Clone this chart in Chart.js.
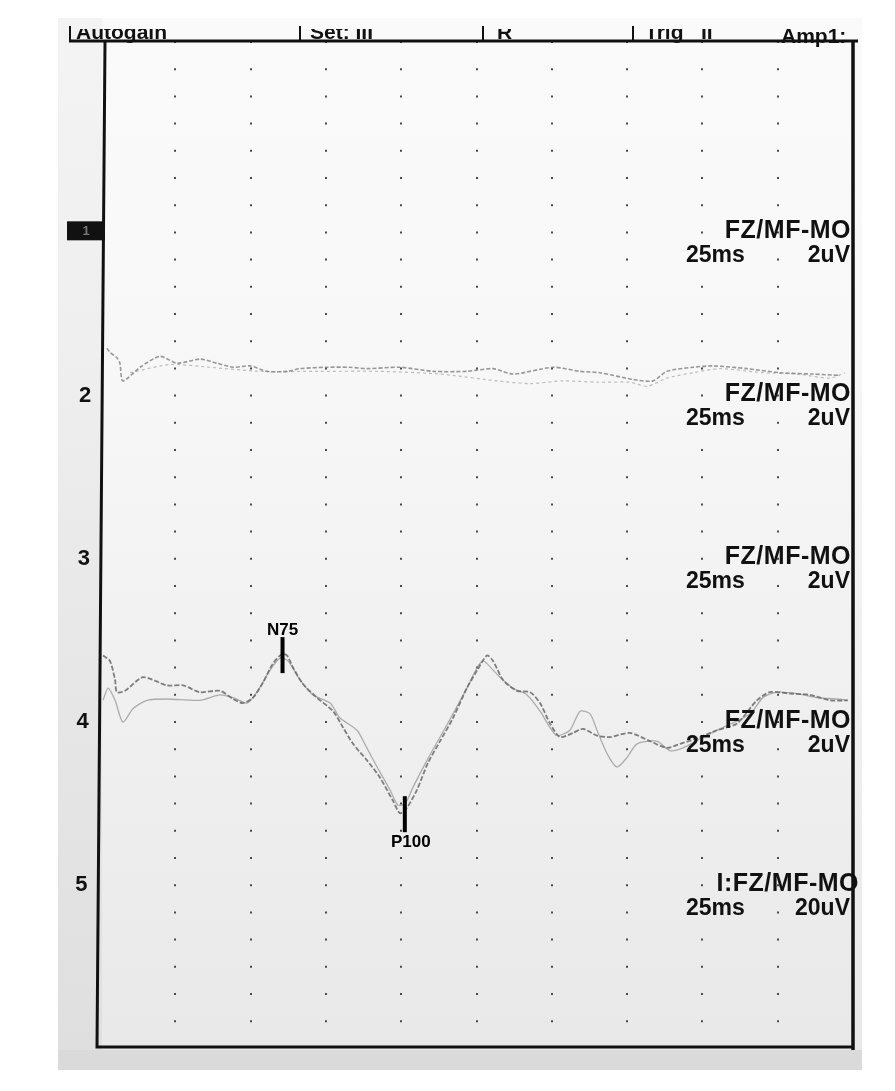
<!DOCTYPE html>
<html>
<head>
<meta charset="utf-8">
<script src="https://cdn.jsdelivr.net/npm/chart.js@4.4.1/dist/chart.umd.min.js"></script>
<style>
  html, body { margin: 0; padding: 0; background: #ffffff; }
  #wrap { position: absolute; left: 0; top: 0; width: 895px; height: 1091px; }
</style>
</head>
<body>
<div id="wrap"><canvas id="c" width="895" height="1091"></canvas></div>
<script>
// ---------------- DATA ----------------
// time axis: 10 divisions of 25 ms
const xTicksMs = [0, 25, 50, 75, 100, 125, 150, 175, 200, 225, 250];
const channelNumbers = ['1', '2', '3', '4', '5'];
const channelLeads = ['FZ/MF-MO', 'FZ/MF-MO', 'FZ/MF-MO', 'FZ/MF-MO', 'I:FZ/MF-MO'];
const channelTimebase = ['25ms', '25ms', '25ms', '25ms', '25ms'];
const channelSensitivity = ['2uV', '2uV', '2uV', '2uV', '20uV'];
const headerCells = ['Autogain', 'Set: III', 'R', 'Trig   II', 'Amp1:'];

// Channel 2 traces (uV, positive down), two superimposed runs
const ch2TimeA = [2.3, 3.3, 5.6, 6.6, 7.6, 13.3, 19.9, 25.6, 33.2, 38.8, 44.2, 49.8, 55.4, 62.1, 66.4, 75.4, 83.0, 88.6, 99.6, 110.6, 121.8, 130.5, 137.1, 150.4, 159.4, 166.0, 177.0, 183.6, 188.2, 196.9, 203.5, 214.8, 225.8, 236.7, 245.7];
const ch2UvA   = [-1.4, -1.1, -0.7, -0.3, 1.0, 0.0, -0.8, -0.3, -0.6, -0.3, 0.0, -0.1, 0.3, 0.3, 0.1, 0.0, 0.0, 0.1, 0.0, 0.3, 0.3, 0.1, 0.5, 0.0, 0.3, 0.4, 0.9, 1.0, 0.3, 0.0, -0.1, 0.1, 0.4, 0.5, 0.6];
const ch2TimeB = [10.0, 23.2, 36.5, 53.1, 73.0, 93.0, 112.9, 131.8, 142.8, 153.7, 165.0, 176.0, 181.6, 188.2, 196.9, 205.8, 220.1, 231.4, 242.4, 247.3];
const ch2UvB   = [0.4, -0.2, 0.0, 0.3, 0.3, 0.3, 0.5, 1.0, 1.2, 1.0, 1.1, 1.1, 1.4, 0.8, 0.4, 0.1, 0.4, 0.5, 0.8, 0.4];

// Channel 4 traces (uV, positive down), two superimposed runs
const ch4TimeA = [1.0, 3.3, 5.0, 5.6, 8.3, 14.3, 22.2, 27.6, 33.2, 39.8, 44.2, 47.5, 50.8, 54.1, 57.4, 60.4, 62.1, 64.1, 67.4, 72.0, 77.4, 80.7, 84.0, 88.6, 93.0, 97.3, 99.6, 101.9, 105.2, 108.9, 112.9, 117.2, 121.8, 125.2, 128.5, 130.5, 133.8, 138.4, 142.8, 146.1, 149.4, 152.7, 157.0, 160.4, 165.0, 169.3, 175.9, 182.6, 188.2, 192.6, 198.2, 204.8, 211.5, 218.1, 222.4, 229.1, 235.7, 242.4, 248.3];
const ch4UvA   = [-2.8, -2.4, -1.0, -0.1, -0.2, -1.2, -0.6, -0.6, -0.1, -0.2, 0.4, 0.7, 0.3, -0.8, -2.2, -2.9, -2.8, -1.9, -0.7, 0.3, 1.3, 2.5, 3.7, 4.9, 6.2, 7.9, 8.8, 8.4, 7.1, 5.1, 3.5, 1.8, -0.4, -1.7, -2.8, -2.4, -1.0, -0.2, -0.1, 0.7, 2.2, 3.2, 2.9, 2.6, 3.1, 3.2, 2.9, 3.5, 4.0, 3.7, 3.3, 2.7, 2.2, 0.5, -0.1, 0.0, 0.1, 0.5, 0.5];
const ch4TimeB = [1.0, 2.7, 5.0, 7.6, 11.0, 15.6, 22.2, 33.2, 39.8, 44.2, 48.8, 52.1, 56.4, 59.8, 62.4, 66.4, 70.7, 76.4, 79.7, 85.3, 88.6, 92.0, 96.3, 98.9, 101.3, 103.9, 108.6, 112.9, 117.2, 121.8, 125.2, 127.2, 128.5, 132.8, 137.1, 141.8, 146.1, 149.4, 151.7, 156.0, 159.4, 162.7, 165.0, 168.3, 171.6, 175.0, 178.3, 184.9, 189.2, 193.6, 200.2, 206.8, 215.8, 220.1, 224.8, 231.4, 238.0, 244.7, 248.0];
const ch4UvB   = [0.5, -0.4, 0.5, 2.1, 1.1, 0.5, 0.4, 0.5, 0.1, 0.3, 0.7, -0.1, -1.7, -2.6, -2.4, -1.0, 0.1, 0.7, 1.8, 2.7, 4.0, 5.4, 7.1, 8.2, 8.1, 6.9, 4.9, 3.2, 1.5, -0.4, -1.9, -2.4, -2.2, -1.2, -0.4, 0.1, 1.3, 2.5, 3.1, 2.7, 1.3, 1.5, 2.7, 4.4, 5.4, 4.7, 3.7, 3.5, 4.2, 4.0, 3.2, 2.5, 1.5, 0.3, -0.1, 0.0, 0.3, 0.4, 0.5];

// Marked peaks on channel 4
const peakNames = ['N75', 'P100'];
const peakMs = [60.6, 101.2];
const peakUv = [-2.9, 8.8];

// ---------------- LAYOUT CONSTANTS ----------------
const uvPerDiv = 2;          // 2 uV per vertical division
const totalDivs = 37;        // vertical divisions in the frame
const ch2BaseDiv = 12;
const ch4BaseDiv = 24;
const FONT = '"Liberation Sans", Arial, sans-serif';

function toPoints(times, uvs, base) {
  return times.map((t, i) => ({ x: t, y: base + uvs[i] / uvPerDiv }));
}

const decorations = {
  id: 'decorations',
  beforeDraw(chart) {
    const c = chart.ctx;
    c.save();
    // scanned paper area
    const g = c.createLinearGradient(0, 18, 0, 1070);
    g.addColorStop(0, '#fafafa');
    g.addColorStop(0.3, '#f8f8f8');
    g.addColorStop(0.6, '#f1f1f1');
    g.addColorStop(1, '#e8e8e8');
    c.fillStyle = g;
    c.fillRect(58, 18, 804, 1052);
    // left margin slightly greyer, fading in
    const g2 = c.createLinearGradient(0, 18, 0, 1070);
    g2.addColorStop(0, 'rgba(205,205,205,0.15)');
    g2.addColorStop(1, 'rgba(205,205,205,0.35)');
    c.fillStyle = g2;
    c.fillRect(58, 18, 44, 1052);
    // bottom striated band
    c.fillStyle = '#dadada';
    c.fillRect(58, 1050, 804, 20);
    c.restore();
  },
  afterDraw(chart) {
    const c = chart.ctx;
    const xs = chart.scales.x, ys = chart.scales.y;
    const L = xs.getPixelForValue(0), R = xs.getPixelForValue(250);
    const T = ys.getPixelForValue(0), B = ys.getPixelForValue(totalDivs);
    c.save();
    // ---- header strip (cut off by the scan) ----
    c.save();
    c.beginPath();
    c.rect(58, 29, 810, 18);
    c.clip();
    c.fillStyle = '#111';
    c.font = 'bold 21px ' + FONT;
    c.textBaseline = 'alphabetic';
    c.textAlign = 'left';
    const cellX = [76, 310, 497, 645];
    for (let i = 0; i < 4; i++) c.fillText(headerCells[i], cellX[i], 39);
    c.restore();
    c.fillStyle = '#111';
    c.font = 'bold 21px ' + FONT;
    c.textAlign = 'left';
    c.textBaseline = 'alphabetic';
    c.fillText(headerCells[4], 781, 43);
    c.strokeStyle = '#111';
    c.lineWidth = 2;
    [70, 300, 483, 633].forEach(x => { c.beginPath(); c.moveTo(x, 26); c.lineTo(x, 42); c.stroke(); });
    c.lineWidth = 3;
    c.beginPath(); c.moveTo(69, 41); c.lineTo(858, 41); c.stroke();

    // ---- frame ----
    c.lineWidth = 3;
    c.beginPath();
    c.moveTo(L + 5, T);
    c.lineTo(L - 3, B);
    c.lineTo(R, B);
    c.stroke();
    c.beginPath(); c.moveTo(R, T); c.lineTo(R, B + 3); c.stroke();

    // ---- channel labels ----
    for (let i = 0; i < channelNumbers.length; i++) {
      const yDiv = 7 + 6 * i;
      const y = ys.getPixelForValue(yDiv);
      const y2 = ys.getPixelForValue(yDiv + 0.9);
      const skew = (y - T) / (B - T) * 8;
      if (i === 0) {
        c.fillStyle = '#111';
        c.fillRect(67, y - 10, 38, 19);
        c.fillStyle = '#777';
        c.font = 'bold 13px ' + FONT;
        c.textAlign = 'center';
        c.textBaseline = 'middle';
        c.fillText(channelNumbers[i], 86, y);
      } else {
        c.fillStyle = '#111';
        c.font = 'bold 22px ' + FONT;
        c.textAlign = 'center';
        c.textBaseline = 'middle';
        c.fillText(channelNumbers[i], 88 - skew, y + 1);
      }
      c.fillStyle = '#111';
      c.font = 'bold 25px ' + FONT;
      c.textAlign = 'right';
      c.textBaseline = 'middle';
      try { c.letterSpacing = '0.5px'; } catch (e) {}
      const rx = (i === 4) ? R + 6 : R - 2;
      c.fillText(channelLeads[i], rx, y);
      try { c.letterSpacing = '0px'; } catch (e) {}
      c.font = 'bold 23px ' + FONT;
      c.textAlign = 'left';
      c.fillText(channelTimebase[i], 686, y2);
      c.textAlign = 'right';
      c.fillText(channelSensitivity[i], R - 3, y2);
    }
    c.strokeStyle = '#111';
    c.lineWidth = 3;
    c.beginPath(); c.moveTo(R, T); c.lineTo(R, B + 3); c.stroke();

    // ---- peak markers ----
    for (let i = 0; i < peakNames.length; i++) {
      const px = xs.getPixelForValue(peakMs[i]);
      const yv = ys.getPixelForValue(ch4BaseDiv + peakUv[i] / uvPerDiv);
      c.fillStyle = '#000';
      c.fillRect(px - 2, yv - 17, 4, 36);
      c.font = 'bold 17px ' + FONT;
      c.textAlign = 'center';
      if (peakUv[i] < 0) {
        c.textBaseline = 'alphabetic';
        c.fillText(peakNames[i], px, yv - 19);
      } else {
        c.textBaseline = 'top';
        c.fillText(peakNames[i], px + 6, yv + 21);
      }
    }
    c.restore();
  }
};

const ctx = document.getElementById('c').getContext('2d');
new Chart(ctx, {
  type: 'line',
  data: {
    datasets: [
      { data: toPoints(ch2TimeA, ch2UvA, ch2BaseDiv), borderColor: 'rgba(120,120,120,0.75)', borderWidth: 1.6, borderDash: [4, 2] },
      { data: toPoints(ch2TimeB, ch2UvB, ch2BaseDiv), borderColor: 'rgba(150,150,150,0.6)', borderWidth: 1.2, borderDash: [3, 3] },
      { data: toPoints(ch4TimeA, ch4UvA, ch4BaseDiv), borderColor: 'rgba(105,105,105,0.85)', borderWidth: 1.8, borderDash: [5, 2] },
      { data: toPoints(ch4TimeB, ch4UvB, ch4BaseDiv), borderColor: 'rgba(150,150,150,0.75)', borderWidth: 1.3 }
    ]
  },
  options: {
    responsive: false,
    devicePixelRatio: 1,
    animation: false,
    layout: { padding: { left: 100, top: 41, right: 42, bottom: 44 } },
    plugins: { legend: { display: false }, tooltip: { enabled: false }, title: { display: false } },
    elements: { point: { radius: 0 }, line: { tension: 0.25, fill: false } },
    scales: {
      x: {
        type: 'linear', min: 0, max: 250,
        afterBuildTicks: (s) => { s.ticks = xTicksMs.map(v => ({ value: v })); },
        ticks: { display: false },
        grid: {
          drawTicks: false,
          lineWidth: 2,
          color: (c) => (c.tick && (c.tick.value === 0 || c.tick.value === 250)) ? 'rgba(0,0,0,0)' : '#4a4a4a'
        },
        border: { display: false, dash: [2, 25.2] }
      },
      y: {
        type: 'linear', min: 0, max: totalDivs, reverse: true,
        display: false
      }
    }
  },
  plugins: [decorations]
});
</script>
</body>
</html>
